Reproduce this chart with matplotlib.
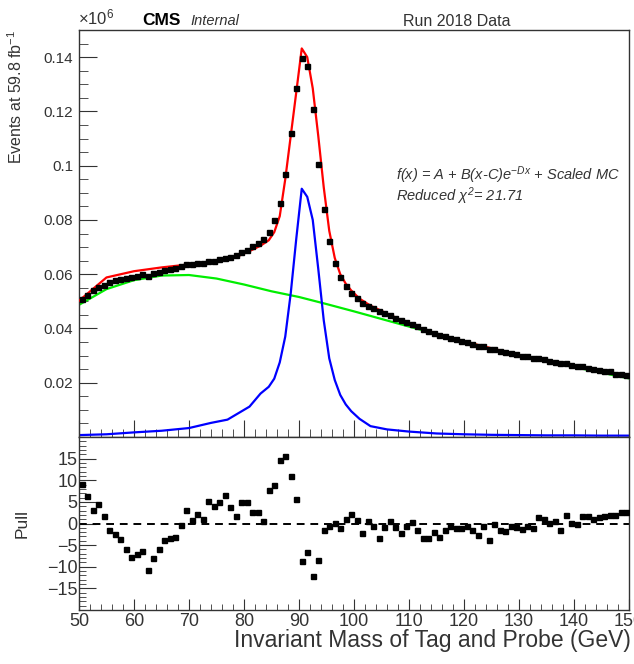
import matplotlib
matplotlib.use("Agg")
import matplotlib.pyplot as plt
from matplotlib.ticker import MultipleLocator

plt.rcParams['font.family'] = ['Liberation Sans', 'DejaVu Sans']
plt.rcParams['mathtext.fontset'] = 'custom'
plt.rcParams['mathtext.rm'] = 'Liberation Sans'
plt.rcParams['mathtext.it'] = 'Liberation Sans:italic'
plt.rcParams['mathtext.bf'] = 'Liberation Sans:bold'
plt.rcParams['mathtext.default'] = 'regular'

# data points (1 GeV bins, units of 10^6 events)
bin_centers = [50.5 + i for i in range(100)]
data_vals = [
    0.0510, 0.0522, 0.0540, 0.0553, 0.0560, 0.0570, 0.0577, 0.0583, 0.0587, 0.0590,
    0.0595, 0.0599, 0.0594, 0.0603, 0.0609, 0.0616, 0.0620, 0.0623, 0.0631, 0.0639,
    0.0638, 0.0642, 0.0642, 0.0649, 0.0650, 0.0655, 0.0661, 0.0664, 0.0670, 0.0681,
    0.0691, 0.0703, 0.0715, 0.0728, 0.0755, 0.0800, 0.0864, 0.0968, 0.1120, 0.1287,
    0.1397, 0.1367, 0.1210, 0.1005, 0.0839, 0.0723, 0.0643, 0.0590, 0.0557, 0.0532,
    0.0512, 0.0493, 0.0484, 0.0474, 0.0464, 0.0457, 0.0449, 0.0440, 0.0431, 0.0424,
    0.0416, 0.0408, 0.0398, 0.0390, 0.0385, 0.0377, 0.0372, 0.0366, 0.0360, 0.0355,
    0.0349, 0.0343, 0.0337, 0.0334, 0.0326, 0.0325, 0.0318, 0.0313, 0.0310, 0.0305,
    0.0300, 0.0297, 0.0292, 0.0291, 0.0286, 0.0281, 0.0278, 0.0271, 0.0272, 0.0265,
    0.0261, 0.0260, 0.0256, 0.0251, 0.0248, 0.0245, 0.0242, 0.0234, 0.0231, 0.0228,
]
pull_vals = [
    9.2, 6.3, 3.2, 4.6, 1.8, -1.5, -2.4, -3.6, -5.8, -7.8,
    -7.1, -6.3, -10.7, -7.9, -6.0, -3.9, -3.4, -3.2, -0.4, 3.2,
    0.9, 2.1, 1.0, 5.3, 4.0, 4.9, 6.6, 3.7, 1.8, 4.9,
    4.9, 2.6, 2.7, 0.6, 7.8, 8.9, 14.7, 15.5, 10.9, 5.6,
    -8.7, -6.6, -12.2, -8.5, -1.6, -0.6, 0.2, -1.1, 1.1, 2.1,
    0.9, -2.3, 0.6, -0.6, -3.4, -0.8, 0.6, -0.8, -2.1, -0.6,
    0.4, -1.4, -3.4, -3.4, -1.9, -3.1, -1.5, -0.6, -1.1, -1.1,
    -0.6, -1.4, -2.6, -0.5, -3.7, -0.2, -1.4, -1.8, -0.5, -0.8,
    -1.2, -0.6, -1.1, 1.4, 1.1, 0.2, 0.5, -1.5, 1.9, 0.2,
    0.0, 1.7, 1.7, 1.1, 1.5, 1.7, 2.0, 2.0, 2.6, 2.6,
]

# fit curves
curve_mass = [50, 55, 60, 65, 70, 74, 77, 79, 81, 83, 84.5, 85.5, 86.5, 87.5, 88.5,
              89.5, 90.5, 91.5, 92.5, 93.5, 94.5, 95.5, 96.5, 97.5, 98.5, 99.5,
              101, 103, 106, 110, 115, 120, 125, 130, 135, 140, 145, 150]
fit_total = [0.0502, 0.0588, 0.0611, 0.0625, 0.0636, 0.0645, 0.0655, 0.0667, 0.0685,
             0.0705, 0.0725, 0.0755, 0.0814, 0.0950, 0.1110, 0.1270, 0.1432, 0.1400,
             0.1285, 0.1110, 0.0920, 0.0760, 0.0660, 0.0600, 0.0565, 0.0540, 0.0510,
             0.0484, 0.0455, 0.0418, 0.0380, 0.0352, 0.0327, 0.0302, 0.0280, 0.0260,
             0.0240, 0.0222]
signal_mc = [0.0007, 0.0010, 0.0017, 0.0023, 0.0033, 0.0052, 0.0064, 0.0088, 0.0112,
             0.0160, 0.0185, 0.0215, 0.0275, 0.0370, 0.0530, 0.0730, 0.0915, 0.0885,
             0.0800, 0.0620, 0.0430, 0.0290, 0.0210, 0.0155, 0.0120, 0.0095, 0.0067,
             0.0040, 0.0028, 0.0020, 0.0013, 0.0010, 0.0008, 0.0007, 0.0006, 0.0006,
             0.0005, 0.0005]

bkg_mass = [50, 55, 60, 65, 70, 75, 80, 85, 90, 95, 100, 105, 110, 115, 120, 125,
            130, 135, 140, 145, 150]
bkg_vals = [0.0487, 0.0545, 0.0578, 0.0595, 0.0597, 0.0584, 0.0562, 0.0537, 0.0516,
            0.0490, 0.0463, 0.0435, 0.0407, 0.0380, 0.0352, 0.0325, 0.0299, 0.0278,
            0.0258, 0.0237, 0.0216]

top_ticks = [0.02, 0.04, 0.06, 0.08, 0.10, 0.12, 0.14]
top_tick_labels = ["0.02", "0.04", "0.06", "0.08", "0.1", "0.12", "0.14"]
pull_ticks = [-15, -10, -5, 0, 5, 10, 15]
pull_tick_labels = ["\u221215", "\u221210", "\u22125", "0", "5", "10", "15"]
x_ticks = [50, 60, 70, 80, 90, 100, 110, 120, 130, 140, 150]

W, H = 634, 664
fig = plt.figure(figsize=(W / 100, H / 100), dpi=100)

ax1 = fig.add_axes([79 / W, 1 - 437 / H, 550 / W, 407 / H])
ax2 = fig.add_axes([79 / W, 1 - 610 / H, 550 / W, 173 / H])

ax1.plot(bkg_mass, bkg_vals, color='#00ee00', lw=1.6, zorder=2)
ax1.plot(curve_mass, signal_mc, color='#0000ff', lw=1.6, zorder=2)
ax1.plot(curve_mass, fit_total, color='#ff0000', lw=1.6, zorder=3)
ax1.plot(bin_centers, data_vals, 's', color='black', ms=3.6, zorder=4)

ax1.set_xlim(50, 150)
ax1.set_ylim(0, 0.15)
ax1.set_yticks(top_ticks)
ax1.set_yticklabels(top_tick_labels, fontsize=11)
ax1.yaxis.set_minor_locator(MultipleLocator(0.005))
ax1.set_xticks(x_ticks)
ax1.xaxis.set_minor_locator(MultipleLocator(2))
ax1.tick_params(axis='x', which='both', direction='in', labelbottom=False, color='#333333')
ax1.tick_params(axis='x', which='major', length=12)
ax1.tick_params(axis='x', which='minor', length=6)
ax1.tick_params(axis='y', which='major', direction='in', length=13, pad=4, color='#333333')
ax1.tick_params(axis='y', which='minor', direction='in', length=6.5, color='#333333')

ax2.plot(bin_centers, pull_vals, 's', color='black', ms=3.6, zorder=4)
ax2.axhline(0, color='black', lw=1.4, ls=(0, (4, 3)), zorder=2)
ax2.set_xlim(50, 150)
ax2.set_ylim(-20, 20)
ax2.set_yticks(pull_ticks)
ax2.set_yticklabels(pull_tick_labels, fontsize=13)
ax2.yaxis.set_minor_locator(MultipleLocator(1))
ax2.set_xticks(x_ticks)
ax2.set_xticklabels([str(t) for t in x_ticks], fontsize=13)
ax2.xaxis.set_minor_locator(MultipleLocator(2))
ax2.tick_params(axis='x', which='major', direction='in', length=8, pad=2, color='#333333')
ax2.tick_params(axis='x', which='minor', direction='in', length=4, color='#333333')
ax2.tick_params(axis='y', which='major', direction='in', length=12, pad=1, color='#333333')
ax2.tick_params(axis='y', which='minor', direction='in', length=5, color='#333333')

for ax in (ax1, ax2):
    for sp in ax.spines.values():
        sp.set_color('#333333')
        sp.set_linewidth(1.0)
    for lab in ax.get_xticklabels() + ax.get_yticklabels():
        lab.set_color('#333333')

# texts
fig.text(78 / W, 1 - 24 / H, "\u00d710$^{6}$", fontsize=12, color='#333333', va='baseline')
fig.text(142 / W, 1 - 25 / H, "CMS", fontsize=12.5, fontweight='bold', va='baseline')
fig.text(190 / W, 1 - 25 / H, "Internal", fontsize=10.5, style='italic', color='#333333', va='baseline')
fig.text(457 / W, 1 - 26 / H, "Run 2018 Data", fontsize=11.5, color='#333333', ha='center', va='baseline')
fig.text(396 / W, 1 - 180 / H, r"f(x) = A + B(x-C)e$^{\mathit{-Dx}}$ + Scaled MC",
         fontsize=10.5, style='italic', color='#333333', va='baseline')
fig.text(396 / W, 1 - 201 / H, r"Reduced $\mathit{\chi}^{2}$= 21.71",
         fontsize=10.5, style='italic', color='#333333', va='baseline')
fig.text(16 / W, 1 - 30 / H, "Events at 59.8 fb$^{-1}$", fontsize=11.5, rotation=90,
         ha='center', va='top', color='#333333')
fig.text(22 / W, 1 - 523 / H, "Pull", fontsize=12.5, rotation=90, ha='center', va='center',
         color='#333333')
fig.text(631 / W, 1 - 640 / H, "Invariant Mass of Tag and Probe (GeV)", fontsize=16.5,
         ha='right', va='center', color='#333333')

fig.savefig("out.png", dpi=100)
